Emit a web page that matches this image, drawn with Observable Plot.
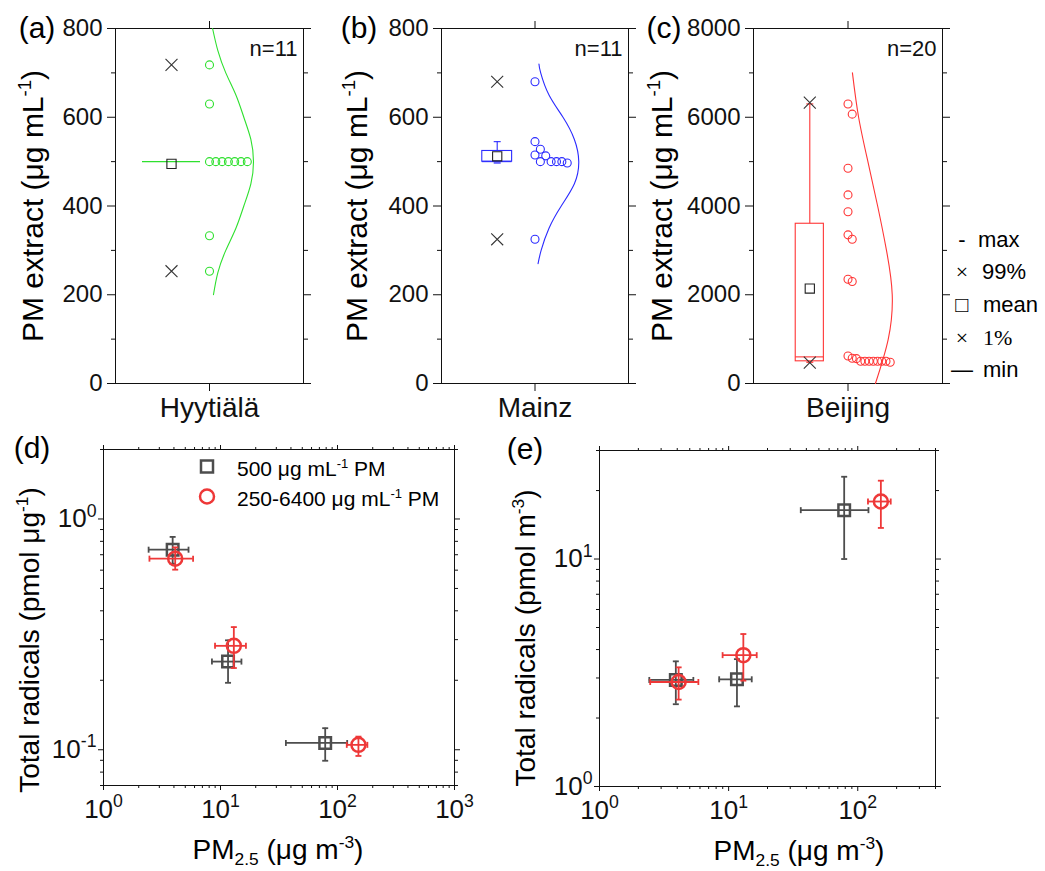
<!DOCTYPE html>
<html><head><meta charset="utf-8">
<script src="https://cdn.jsdelivr.net/npm/d3@7"></script>
<script src="https://cdn.jsdelivr.net/npm/@observablehq/plot@0.6"></script>
<style>
html,body{margin:0;padding:0;background:#fff}
#fig{position:relative;width:1045px;height:871px;overflow:hidden;font-family:"Liberation Sans",Arial,sans-serif;color:#000}
.lbl{position:absolute;white-space:nowrap;line-height:1}
sup{font-size:0.62em;vertical-align:baseline;position:relative;top:-0.62em}
sub{font-size:0.62em;vertical-align:baseline;position:relative;top:0.32em}
</style></head>
<body><div id="fig"></div>
<script>
// ---------------- data ----------------
const sites = ["Hyytiälä", "Mainz", "Beijing"];
const panelTags = ["(a)", "(b)", "(c)", "(d)", "(e)"];
const pmHyytiala = [718, 630, 500, 500, 500, 500, 500, 500, 500, 333, 253];
const pmMainz = [680, 545, 528, 515, 513, 500, 500, 500, 500, 497, 325];
const pmBeijing = [6300, 6070, 4850, 4250, 3870, 3350, 3250, 2350, 2300, 620, 570, 560, 500, 500, 500, 500, 500, 500, 500, 480];
const boxQ1 = [500, 500, 500];
const boxMedian = [500, 500, 600];
const boxQ3 = [500, 524, 3600];
const whiskerLow = [500, 500, 500];
const whiskerHigh = [500, 545, 6300];
const boxMean = [495, 512, 2140];
const pct1 = [253, 325, 470];
const pct99 = [718, 680, 6330];
const minMark = [null, 497, 480];
// fitted distribution curves (relative density)
const curveHyytialaY = [200, 250, 300, 350, 400, 450, 500, 550, 600, 650, 700, 750, 800];
const curveHyytialaD = [0.09, 0.19, 0.37, 0.6, 0.78, 0.94, 1, 0.94, 0.78, 0.6, 0.37, 0.19, 0.07];
const curveMainzY = [270, 300, 350, 400, 450, 500, 550, 600, 650, 700, 720];
const curveMainzD = [0.07, 0.14, 0.32, 0.6, 0.9, 1, 0.9, 0.64, 0.32, 0.13, 0.09];
const curveBeijingY = [0, 1000, 2000, 3000, 4000, 5000, 6000, 7000];
const curveBeijingD = [0.62, 0.91, 1.0, 0.87, 0.67, 0.45, 0.24, 0.10];
const yTicksLow = [0, 200, 400, 600, 800];
const yMinorLow = [100, 300, 500, 700];
const yTicksHigh = [0, 2000, 4000, 6000, 8000];
const yMinorHigh = [1000, 3000, 5000, 7000];
const legendStats = ["max", "99%", "mean", "1%", "min"];
const legendGlyphs = ["-", "×", "□", "×", "—"];

// bottom panels
const seriesNames = ["500 μg mL<sup>-1</sup> PM", "250-6400 μg mL<sup>-1</sup> PM"];
const pm25Fixed = [3.9, 11.6, 78.5];
const pm25FixedLo = [2.43, 8.45, 36.2];
const pm25FixedHi = [5.33, 15.1, 121];
const pm25Range = [4.1, 13.0, 151];
const pm25RangeLo = [2.47, 8.98, 120];
const pm25RangeHi = [5.83, 16.5, 180];
const radMassFixed = [0.736, 0.241, 0.107];
const radMassFixedLo = [0.64, 0.195, 0.0896];
const radMassFixedHi = [0.836, 0.298, 0.124];
const radMassRange = [0.673, 0.282, 0.105];
const radMassRangeLo = [0.603, 0.226, 0.094];
const radMassRangeHi = [0.753, 0.34, 0.114];
const radVolFixed = [2.94, 2.96, 16.4];
const radVolFixedLo = [2.30, 2.25, 10.0];
const radVolFixedHi = [3.55, 3.63, 23.0];
const radVolRange = [2.88, 3.78, 17.9];
const radVolRangeLo = [2.41, 2.92, 13.7];
const radVolRangeHi = [3.34, 4.68, 22.1];

// ---------------- helpers ----------------
const FONT = "Liberation Sans, Arial, sans-serif";
const fig = document.getElementById("fig");
function addSvg(svg, left, top) {
  svg.style.position = "absolute";
  svg.style.left = left + "px";
  svg.style.top = top + "px";
  svg.style.maxWidth = "none";
  fig.appendChild(svg);
}
function label(html, x, y, size, opts = {}) {
  const d = document.createElement("div");
  d.className = "lbl";
  d.innerHTML = html;
  d.style.left = x + "px";
  d.style.top = y + "px";
  d.style.fontSize = size + "px";
  let t = "translate(-50%,-50%)";
  if (opts.anchor === "start") t = "translate(0,-50%)";
  if (opts.rotate) t += " rotate(-90deg)";
  d.style.transform = t;
  if (opts.family) d.style.fontFamily = opts.family;
  if (opts.color) d.style.color = opts.color;
  fig.appendChild(d);
  return d;
}
function supify(root) {
  root.querySelectorAll("text").forEach(t => {
    const s = t.textContent;
    const i = s.indexOf("^");
    if (i < 0) return;
    while (t.firstChild) t.removeChild(t.firstChild);
    t.appendChild(document.createTextNode(s.slice(0, i)));
    const sp = document.createElementNS("http://www.w3.org/2000/svg", "tspan");
    sp.setAttribute("dy", "-0.6em");
    sp.setAttribute("font-size", "0.68em");
    sp.textContent = s.slice(i + 1);
    t.appendChild(sp);
  });
}
const vbar = {draw(ctx, size) { const h = Math.sqrt(size / Math.PI); ctx.moveTo(0, -h); ctx.lineTo(0, h); }};
const hbar = {draw(ctx, size) { const w = Math.sqrt(size / Math.PI); ctx.moveTo(-w, 0); ctx.lineTo(w, 0); }};
const blank = () => "";

// ---------------- top panels ----------------
const topCfg = [
  {values: pmHyytiala, cy: curveHyytialaY, cd: curveHyytialaD, color: "#2ee02e", yMax: 800, major: yTicksLow, minor: yMinorLow,
   left: 0, width: 330, mL: 115, mR: 27, boxHalf: 29, step: 6.3},
  {values: pmMainz, cy: curveMainzY, cd: curveMainzD, color: "#2b2bff", yMax: 800, major: yTicksLow, minor: yMinorLow,
   left: 330, width: 310, mL: 111, mR: 12, boxHalf: 15, step: 5.4},
  {values: pmBeijing, cy: curveBeijingY, cd: curveBeijingD, color: "#ff3535", yMax: 8000, major: yTicksHigh, minor: yMinorHigh,
   left: 640, width: 405, mL: 113, mR: 103, boxHalf: 14, step: 4.2}
];
const TOP_H = 430, TOP_MT = 28, TOP_MB = 47;
topCfg.forEach((c, i) => {
  const pxPerUnit = (TOP_H - TOP_MT - TOP_MB) / c.yMax;
  // dodge identical / close values sideways (slot layout)
  const order = d3.range(c.values.length).sort((a, b) => c.values[b] - c.values[a]);
  const placed = [];
  for (const k of order) {
    const v = c.values[k];
    const used = new Set(placed.filter(p => Math.abs(p.v - v) * pxPerUnit < 11).map(p => p.slot));
    let s = 0; while (used.has(s)) s++;
    placed.push({v, slot: s});
  }
  const curve = c.cy.map((y, j) => ({y, d: c.cd[j]}));
  const stat = {q1: boxQ1[i], med: boxMedian[i], q3: boxQ3[i], wLo: whiskerLow[i], wHi: whiskerHigh[i],
                mean: boxMean[i], min: minMark[i]};
  const bx = -38, hw = c.boxHalf;
  const svg = Plot.plot({
    width: c.width, height: TOP_H,
    marginLeft: c.mL, marginRight: c.mR, marginTop: TOP_MT, marginBottom: TOP_MB,
    style: {fontFamily: FONT, background: "transparent", overflow: "visible", color: "#111"},
    x: {type: "linear", domain: [-94, 94], label: null},
    y: {domain: [0, c.yMax], label: null},
    marks: [
      Plot.axisY({ticks: c.major, tickSize: 8, tickPadding: 5, fontSize: 24, tickFormat: d3.format("d"), label: null}),
      Plot.axisY({ticks: c.minor, tickSize: 4, tickFormat: blank, label: null}),
      Plot.axisY({anchor: "right", ticks: c.major, tickSize: 7, tickFormat: blank, label: null}),
      Plot.axisY({anchor: "right", ticks: c.minor, tickSize: 4, tickFormat: blank, label: null}),
      Plot.axisX({ticks: [0], tickSize: 8, tickPadding: 6, fontSize: 28, tickFormat: () => sites[i], label: null}),
      Plot.axisX({anchor: "top", ticks: [0], tickSize: 8, tickFormat: blank, label: null}),
      Plot.frame({stroke: "#111"}),
      // fitted curve
      Plot.line(curve, {x: d => d.d * 44, y: "y", curve: "natural", stroke: c.color, strokeWidth: 1.1}),
      // box
      Plot.rect([stat], {x1: bx - hw, x2: bx + hw, y1: "q1", y2: "q3", stroke: c.color, fill: "none", strokeWidth: 1.1}),
      Plot.ruleY([stat], {y: "med", x1: bx - hw, x2: bx + hw, stroke: c.color, strokeWidth: 1.1}),
      Plot.ruleX([stat], {x: bx, y1: "q3", y2: "wHi", stroke: c.color, strokeWidth: 1.1}),
      Plot.ruleX([stat], {x: bx, y1: "wLo", y2: "q1", stroke: c.color, strokeWidth: 1.1}),
      Plot.dot([stat].filter(s => s.wHi > s.q3), {x: bx, y: "wHi", symbol: hbar, r: 3.5, stroke: c.color, fill: "none", strokeWidth: 1.1}),
      Plot.dot([stat].filter(s => s.min != null), {x: bx, y: "min", symbol: hbar, r: 3.5, stroke: c.color, fill: "none", strokeWidth: 1.3}),
      Plot.dot([pct1[i], pct99[i]], {x: bx, y: d => d, symbol: "times", r: 5.5, stroke: "#333", strokeWidth: 1.1}),
      Plot.dot([stat], {x: bx, y: "mean", symbol: "square", r: 5.2, stroke: "#222", fill: "none", strokeWidth: 1.1}),
      // raw points
      Plot.dot(placed, {x: d => d.slot * c.step, y: "v", r: 4, stroke: c.color, fill: "none", strokeWidth: 1.1}),
      Plot.text([`n=${c.values.length}`], {text: d => d, frameAnchor: "top-right", textAnchor: "end", lineAnchor: "top",
                 dx: -6, dy: 12, fontSize: 22, fontFamily: FONT, fill: "#111"})
    ]
  });
  addSvg(svg, c.left, 0);
});

// ---------------- bottom panels ----------------
function minorTicks([a, b]) {
  const out = [];
  for (let k = Math.floor(Math.log10(a)); k <= Math.ceil(Math.log10(b)); k++)
    for (let m = 2; m <= 9; m++) { const v = m * Math.pow(10, k); if (v >= a * 0.999 && v <= b * 1.001) out.push(v); }
  return out;
}
const GRAY = "#4d4d4d", RED = "#ee3838";
const bottomCfg = [
  {left: 0, width: 500, mL: 103, mR: 46, mT: 29, mB: 86, xDomain: [1, 1000], yDomain: [0.07, 2.0],
   xMajor: [1, 10, 100, 1000], yMajor: [0.1, 1],
   fy: radMassFixed, fyLo: radMassFixedLo, fyHi: radMassFixedHi, ry: radMassRange, ryLo: radMassRangeLo, ryHi: radMassRangeHi},
  {left: 500, width: 545, mL: 99, mR: 110, mT: 30, mB: 85, xDomain: [1, 400], yDomain: [1, 30],
   xMajor: [1, 10, 100], yMajor: [1, 10],
   fy: radVolFixed, fyLo: radVolFixedLo, fyHi: radVolFixedHi, ry: radVolRange, ryLo: radVolRangeLo, ryHi: radVolRangeHi}
];
const fmtPow = d => "10^" + Math.round(Math.log10(d));
bottomCfg.forEach(c => {
  const sq = pm25Fixed.map((x, j) => ({x, xlo: pm25FixedLo[j], xhi: pm25FixedHi[j], y: c.fy[j], ylo: c.fyLo[j], yhi: c.fyHi[j]}));
  const ci = pm25Range.map((x, j) => ({x, xlo: pm25RangeLo[j], xhi: pm25RangeHi[j], y: c.ry[j], ylo: c.ryLo[j], yhi: c.ryHi[j]}));
  const mx = minorTicks(c.xDomain), my = minorTicks(c.yDomain);
  const bars = (data, color) => [
    Plot.ruleY(data, {y: "y", x1: "xlo", x2: "xhi", stroke: color, strokeWidth: 1.8}),
    Plot.ruleX(data, {x: "x", y1: "ylo", y2: "yhi", stroke: color, strokeWidth: 1.8}),
    Plot.dot(data, {x: "xlo", y: "y", symbol: vbar, r: 3, stroke: color, fill: "none", strokeWidth: 1.8}),
    Plot.dot(data, {x: "xhi", y: "y", symbol: vbar, r: 3, stroke: color, fill: "none", strokeWidth: 1.8}),
    Plot.dot(data, {x: "x", y: "ylo", symbol: hbar, r: 3, stroke: color, fill: "none", strokeWidth: 1.8}),
    Plot.dot(data, {x: "x", y: "yhi", symbol: hbar, r: 3, stroke: color, fill: "none", strokeWidth: 1.8})
  ];
  const svg = Plot.plot({
    width: c.width, height: 451,
    marginLeft: c.mL, marginRight: c.mR, marginTop: c.mT, marginBottom: c.mB,
    style: {fontFamily: FONT, background: "transparent", overflow: "visible", color: "#111"},
    x: {type: "log", domain: c.xDomain, label: null},
    y: {type: "log", domain: c.yDomain, label: null},
    marks: [
      Plot.axisX({ticks: c.xMajor, tickSize: 5, tickPadding: 9, fontSize: 26, tickFormat: fmtPow, label: null}),
      Plot.axisX({ticks: mx, tickSize: 3, tickFormat: blank, label: null}),
      Plot.axisX({anchor: "top", ticks: c.xMajor, tickSize: 5, tickFormat: blank, label: null}),
      Plot.axisX({anchor: "top", ticks: mx, tickSize: 3, tickFormat: blank, label: null}),
      Plot.axisY({ticks: c.yMajor, tickSize: 5, tickPadding: 2, fontSize: 26, tickFormat: fmtPow, label: null}),
      Plot.axisY({ticks: my, tickSize: 3, tickFormat: blank, label: null}),
      Plot.axisY({anchor: "right", ticks: c.yMajor, tickSize: 5, tickFormat: blank, label: null}),
      Plot.axisY({anchor: "right", ticks: my, tickSize: 3, tickFormat: blank, label: null}),
      Plot.frame({stroke: "#111"}),
      ...bars(sq, GRAY),
      Plot.dot(sq, {x: "x", y: "y", symbol: "square", r: 6.5, stroke: GRAY, fill: "none", strokeWidth: 2.5}),
      ...bars(ci, RED),
      Plot.dot(ci, {x: "x", y: "y", symbol: "circle", r: 7, stroke: RED, fill: "none", strokeWidth: 2.5})
    ]
  });
  supify(svg);
  addSvg(svg, c.left, 420);
});

// ---------------- text labels ----------------
const tagPos = [[37, 28], [359, 28], [664, 28], [32, 448], [525, 449]];
panelTags.forEach((t, i) => label(t, tagPos[i][0], tagPos[i][1], 30));
const pmTitle = "PM extract (μg mL<sup>-1</sup>)";
[[33, 206], [357, 206], [662, 206]].forEach(p => label(pmTitle, p[0], p[1], 30, {rotate: true}));
label("Total radicals (pmol μg<sup>-1</sup>)", 30, 640, 28, {rotate: true});
label("Total radicals (pmol m<sup>-3</sup>)", 526, 638, 28, {rotate: true});
label("PM<sub>2.5</sub> (μg m<sup>-3</sup>)", 278, 850, 28);
label("PM<sub>2.5</sub> (μg m<sup>-3</sup>)", 799, 851, 28);

// legend for the box statistics (right of panel c)
const statY = [240, 272, 305, 338, 370];
const statTextX = [978, 982, 983, 983, 983];
legendStats.forEach((s, i) => {
  const serif = s === "1%";
  label(legendGlyphs[i], 962, statY[i], 22, {family: (i === 1 || i === 3) ? '"Liberation Serif", serif' : FONT});
  label(s, statTextX[i], statY[i], 22, {anchor: "start", family: serif ? '"Liberation Serif", serif' : FONT});
});

// legend for panel d
label('<svg width="18" height="18"><rect x="3" y="3" width="12" height="12" fill="none" stroke="' + GRAY + '" stroke-width="2.5"/></svg>', 207, 468, 18);
label('<svg width="20" height="20"><circle cx="10" cy="10" r="7" fill="none" stroke="' + RED + '" stroke-width="2.5"/></svg>', 207, 498, 18);
label(seriesNames[0], 237, 468, 21, {anchor: "start"});
label(seriesNames[1], 237, 498, 21, {anchor: "start"});
</script>
</body></html>
